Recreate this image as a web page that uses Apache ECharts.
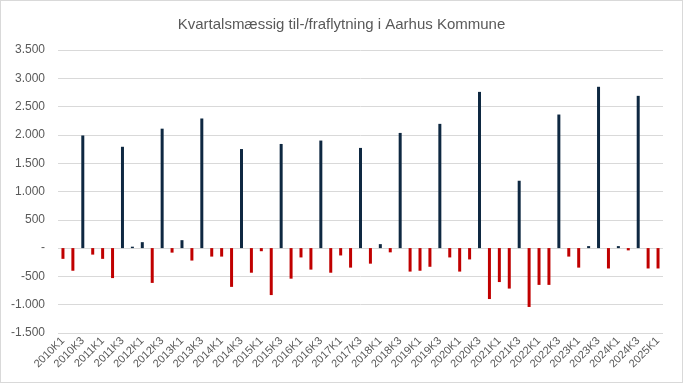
<!DOCTYPE html>
<html>
<head>
<meta charset="utf-8">
<script src="https://cdn.jsdelivr.net/npm/echarts@6/dist/echarts.min.js"></script>
<style>
html,body{margin:0;padding:0;background:#fff;}
#wrap{position:absolute;left:0;top:0;width:683px;height:383px;box-sizing:border-box;border:1px solid #d9d9d9;}
#chart{position:absolute;left:0;top:0;width:683px;height:384px;}
</style>
</head>
<body>
<div id="wrap"></div>
<div id="chart"></div>
<script>
const title = "Kvartalsmæssig til-/fraflytning i Aarhus Kommune";
const categories = [
  "2010K1","2010K2","2010K3","2010K4",
  "2011K1","2011K2","2011K3","2011K4",
  "2012K1","2012K2","2012K3","2012K4",
  "2013K1","2013K2","2013K3","2013K4",
  "2014K1","2014K2","2014K3","2014K4",
  "2015K1","2015K2","2015K3","2015K4",
  "2016K1","2016K2","2016K3","2016K4",
  "2017K1","2017K2","2017K3","2017K4",
  "2018K1","2018K2","2018K3","2018K4",
  "2019K1","2019K2","2019K3","2019K4",
  "2020K1","2020K2","2020K3","2020K4",
  "2021K1","2021K2","2021K3","2021K4",
  "2022K1","2022K2","2022K3","2022K4",
  "2023K1","2023K2","2023K3","2023K4",
  "2024K1","2024K2","2024K3","2024K4",
  "2025K1"
];
const values = [
  -190, -400, 1990, -115,
  -190, -530, 1790, 25,
  105, -615, 2110, -80,
  140, -220, 2290, -150,
  -150, -685, 1750, -435,
  -55, -830, 1840, -540,
  -165, -380, 1900, -435,
  -130, -345, 1770, -275,
  70, -75, 2035, -415,
  -400, -330, 2195, -165,
  -415, -200, 2760, -900,
  -600, -715, 1190, -1040,
  -650, -650, 2360, -150,
  -345, 35, 2850, -360,
  35, -40, 2690, -360,
  -360
];
const yTicks = { min: -1500, max: 3500, interval: 500 };
const posColor = "#0E2841";
const negColor = "#C00000";

function fmt(v){
  if (v === 0) return "-";
  const s = Math.abs(v).toString().replace(/\B(?=(\d{3})+(?!\d))/g, ".");
  return (v < 0 ? "-" : "") + s;
}

const chart = echarts.init(document.getElementById('chart'), null, {renderer:'canvas'});
chart.setOption({
  animation: false,
  backgroundColor: 'transparent',
  textStyle: { fontFamily: 'Liberation Sans, Arial, sans-serif' },
  title: {
    text: title, left: 'center', top: 12,
    textStyle: { fontSize: 15, fontWeight: 'normal', color: '#595959', fontFamily: 'Liberation Sans, Arial, sans-serif' }
  },
  grid: { left: 58, right: 20, top: 50, bottom: 51, containLabel: false },
  xAxis: {
    type: 'category', data: categories,
    axisLine: { show: false }, axisTick: { show: false },
    axisLabel: { interval: 1, rotate: 45, fontSize: 11, color: '#595959', margin: 6 },
    splitLine: { show: false }
  },
  yAxis: {
    type: 'value', min: yTicks.min, max: yTicks.max, interval: yTicks.interval,
    axisLine: { show: false }, axisTick: { show: false },
    axisLabel: { fontSize: 12, color: '#595959', margin: 13, formatter: fmt },
    splitLine: { lineStyle: { color: '#d9d9d9', width: 1 } }
  },
  series: [{
    type: 'bar', data: values, barWidth: 3,
    itemStyle: { color: p => p.value >= 0 ? posColor : negColor }
  }]
});
</script>
</body>
</html>
